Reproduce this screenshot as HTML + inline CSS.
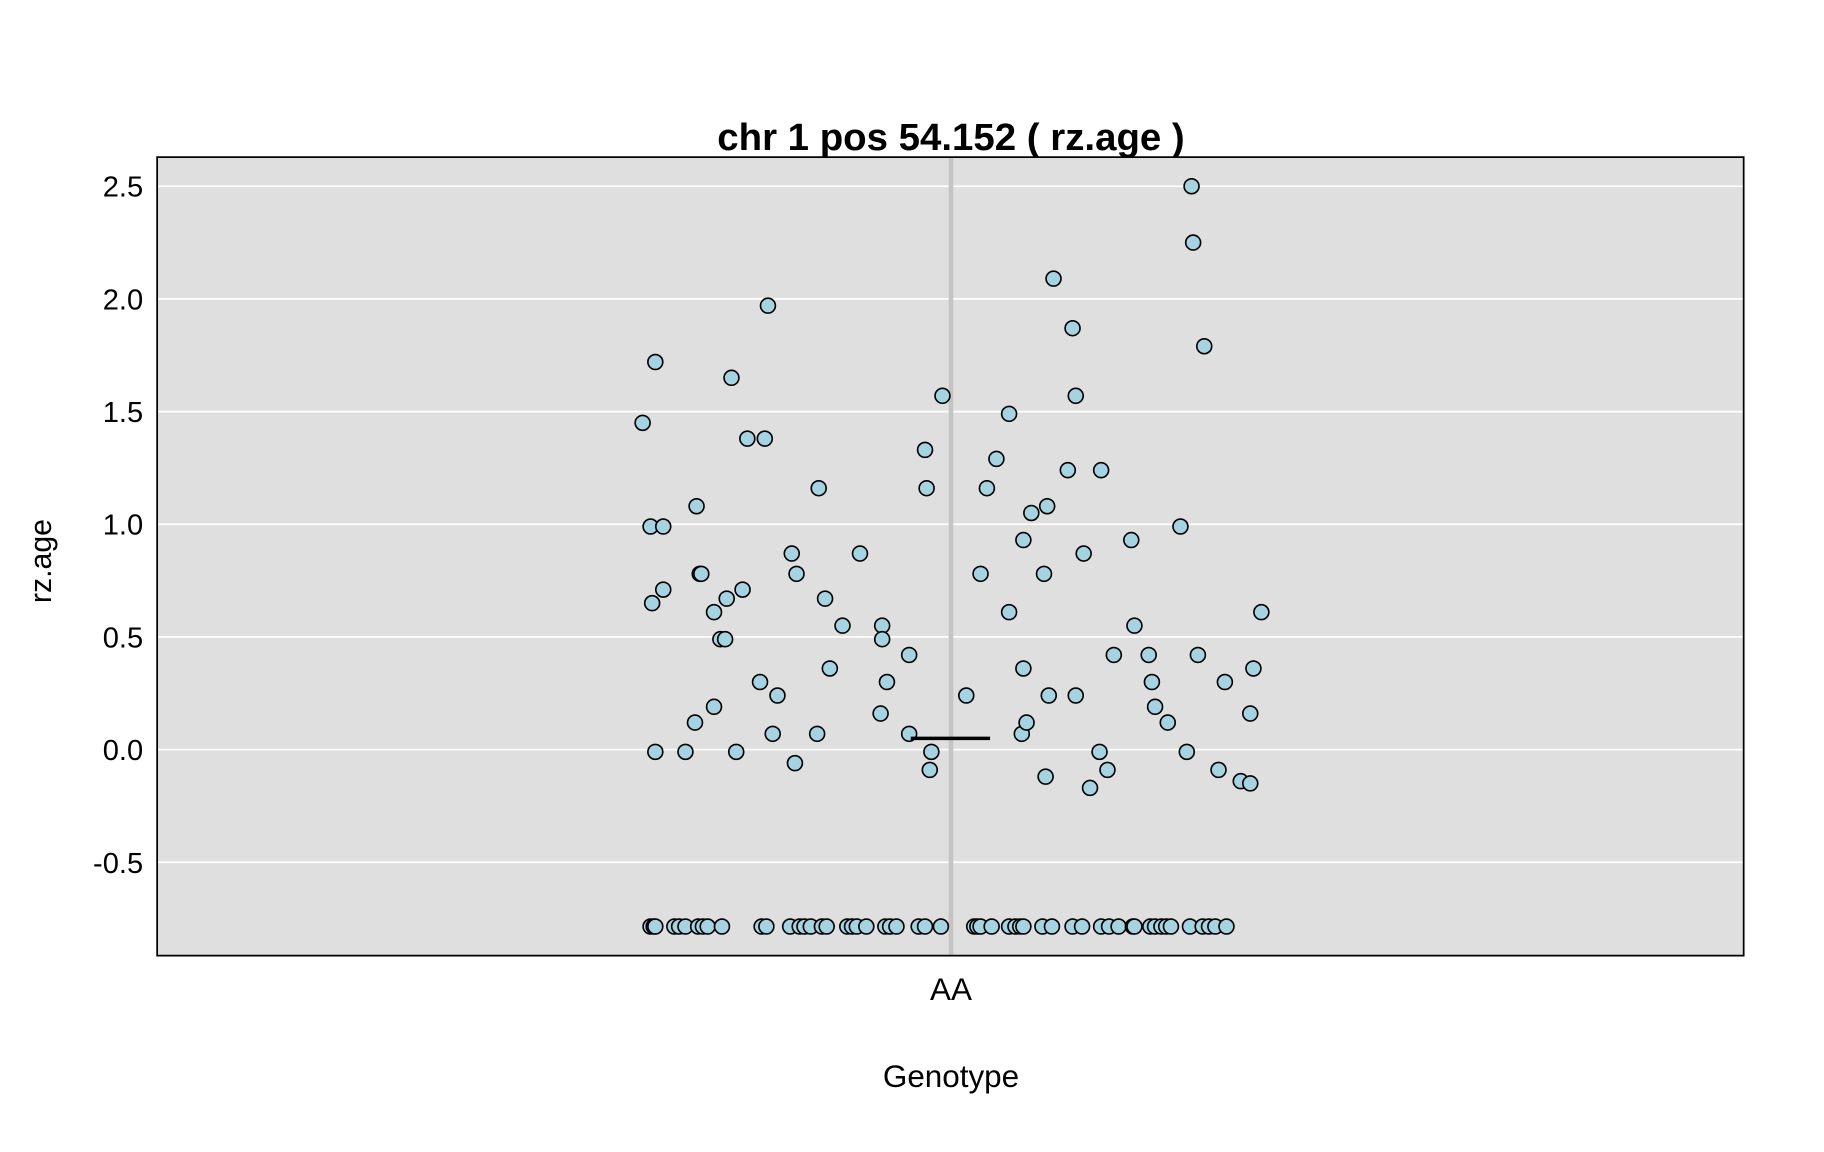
<!DOCTYPE html>
<html><head><meta charset="utf-8"><style>
html,body{margin:0;padding:0;background:#fff;}
svg{display:block;font-family:"Liberation Sans",Arial,sans-serif;}
</style></head><body>
<svg id="chart" width="1824" height="1152" viewBox="0 0 1567 989.7" xmlns="http://www.w3.org/2000/svg">
<rect x="0" y="0" width="1567" height="989.7" fill="#fff"/>
<rect x="135" y="135" width="1363" height="686" fill="#dfdfdf"/>
<g id="grid"></g>
<rect x="815" y="135" width="4" height="686" fill="#c4c4c4"/>
<g id="points"></g>
<g id="median"></g>
<rect x="135" y="135" width="1363" height="686" fill="none" stroke="#000" stroke-width="1.5"/>
<g id="yticks"></g>
<text x="817" y="129" text-anchor="middle" font-size="33" font-weight="bold">chr 1 pos 54.152 ( rz.age )</text>
<text x="817" y="859" text-anchor="middle" font-size="27">AA</text>
<text x="817" y="934" text-anchor="middle" font-size="27">Genotype</text>
<text x="0" y="0" transform="translate(44,482) rotate(-90)" text-anchor="middle" font-size="26">rz.age</text>
</svg>
<script>
const yTicks = [-0.5, 0.0, 0.5, 1.0, 1.5, 2.0, 2.5];
const yTickLabels = ["-0.5", "0.0", "0.5", "1.0", "1.5", "2.0", "2.5"];
const medianValue = 0.05;
const pointX = [-0.194,-0.186,-0.189,-0.181,-0.188,-0.181,-0.186,-0.167,-0.160,-0.158,-0.157,-0.161,-0.149,-0.149,-0.145,-0.142,-0.141,-0.138,-0.135,-0.131,-0.128,-0.117,-0.115,-0.120,-0.109,-0.112,-0.100,-0.097,-0.098,-0.084,-0.083,-0.079,-0.076,-0.068,-0.057,-0.043,-0.043,-0.040,-0.044,-0.026,-0.026,-0.016,-0.015,-0.005,-0.012,-0.013,0.010,0.019,0.023,0.029,0.037,0.037,0.046,0.046,0.045,0.048,0.051,0.061,0.059,0.062,0.060,0.065,0.074,0.077,0.079,0.079,0.084,0.095,0.094,0.099,0.088,0.103,0.114,0.116,0.125,0.127,0.129,0.137,0.145,0.149,0.152,0.153,0.160,0.156,0.169,0.173,0.183,0.189,0.189,0.191,0.196];
const pointY = [1.45,1.72,0.99,0.99,0.65,0.71,-0.01,-0.01,1.08,0.78,0.78,0.12,0.61,0.19,0.49,0.49,0.67,1.65,-0.01,0.71,1.38,1.38,1.97,0.30,0.24,0.07,0.87,0.78,-0.06,0.07,1.16,0.67,0.36,0.55,0.87,0.55,0.49,0.30,0.16,0.42,0.07,1.33,1.16,1.57,-0.01,-0.09,0.24,0.78,1.16,1.29,1.49,0.61,0.93,0.36,0.07,0.12,1.05,1.08,0.78,0.24,-0.12,2.09,1.24,1.87,1.57,0.24,0.87,1.24,-0.01,-0.09,-0.17,0.42,0.93,0.55,0.42,0.30,0.19,0.12,0.99,-0.01,2.50,2.25,1.79,0.42,-0.09,0.30,-0.14,0.16,-0.15,0.36,0.61];
const floorX = [-0.189,-0.187,-0.186,-0.174,-0.171,-0.167,-0.159,-0.156,-0.153,-0.144,-0.119,-0.116,-0.101,-0.095,-0.092,-0.088,-0.081,-0.078,-0.065,-0.062,-0.059,-0.053,-0.041,-0.038,-0.034,-0.020,-0.016,-0.006,0.015,0.017,0.019,0.026,0.037,0.041,0.044,0.046,0.058,0.064,0.077,0.083,0.095,0.100,0.106,0.115,0.116,0.126,0.129,0.133,0.136,0.139,0.151,0.159,0.163,0.167,0.174];
const floorValue = -0.785;

const NS = "http://www.w3.org/2000/svg";
const sx = v => 135 + (1 + v - 0.5) * 1363;
const sy = v => 644 - v * 193.6;

const grid = document.getElementById('grid');
const yt = document.getElementById('yticks');
yTicks.forEach((t, i) => {
  const l = document.createElementNS(NS, 'line');
  l.setAttribute('x1', 135); l.setAttribute('x2', 1498);
  l.setAttribute('y1', sy(t)); l.setAttribute('y2', sy(t));
  l.setAttribute('stroke', '#fff'); l.setAttribute('stroke-width', '1.5');
  
  
  grid.appendChild(l);
  const tx = document.createElementNS(NS, 'text');
  tx.setAttribute('x', 123); tx.setAttribute('y', sy(t) + 9);
  tx.setAttribute('text-anchor', 'end'); tx.setAttribute('font-size', '25');
  tx.textContent = yTickLabels[i];
  
  
  yt.appendChild(tx);
});

const pts = document.getElementById('points');
function addPoint(xv, yv) {
  const c = document.createElementNS(NS, 'circle');
  c.setAttribute('cx', sx(xv)); c.setAttribute('cy', sy(yv)); c.setAttribute('r', 6.4);
  c.setAttribute('fill', '#a6d3e2'); c.setAttribute('stroke', '#000'); c.setAttribute('stroke-width', '1.4');
  
  
  pts.appendChild(c);
}
pointX.forEach((x, i) => addPoint(x, pointY[i]));
floorX.forEach(x => addPoint(x, floorValue));

const med = document.createElementNS(NS, 'line');
med.setAttribute('x1', sx(-0.025)); med.setAttribute('x2', sx(0.025));
med.setAttribute('y1', sy(medianValue)); med.setAttribute('y2', sy(medianValue));
med.setAttribute('stroke', '#000'); med.setAttribute('stroke-width', '3');


document.getElementById('median').appendChild(med);
</script>
</body></html>
